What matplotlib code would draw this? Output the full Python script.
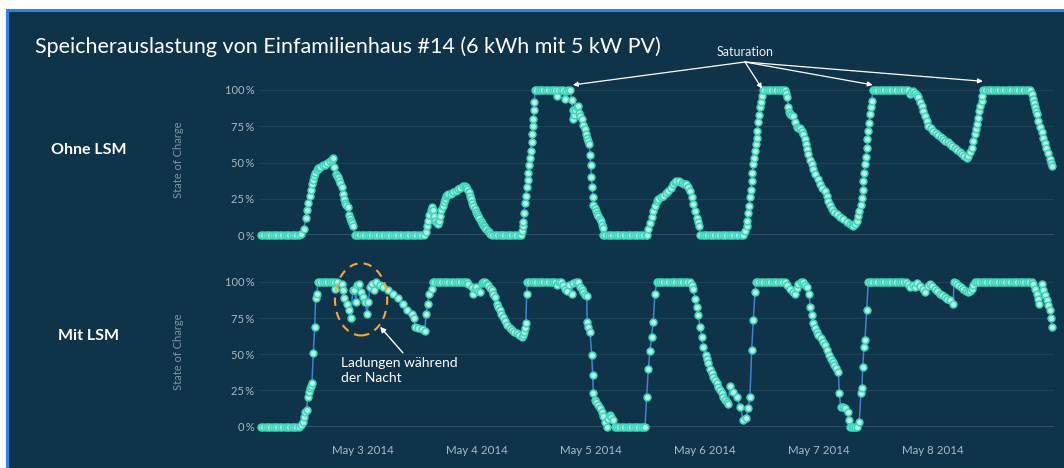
import matplotlib
matplotlib.use('Agg')
import matplotlib.pyplot as plt
import matplotlib.dates as mdates
from matplotlib.patches import Rectangle, Ellipse
import numpy as np
import pandas as pd

plt.rcParams['font.family'] = ['Lato', 'DejaVu Sans']

START = pd.Timestamp('2014-05-02 00:00')

# (Stunden seit 2.5.2014 00:00, State of Charge in %)
ohne_lsm = [
    (2.5, 0), (3, 0), (3.5, 0), (4, 0), (4.5, 0), (5, 0), (5.5, 0), (6, 0), (6.5, 0), (7, 0),
    (7.5, 0), (8, 0), (8.5, 0), (9, 0), (9.5, 0), (10, 0), (10.5, 0),
    (11, 1), (11.5, 4), (12, 12), (12.25, 17), (12.5, 22), (12.75, 27), (13, 31), (13.25, 35),
    (13.5, 38), (13.75, 41), (14, 43), (14.25, 45), (14.5, 46), (14.75, 46.5), (15, 47), (15.5, 48),
    (16, 48.5), (16.5, 49.5), (17, 51), (17.5, 52), (17.75, 53),
    (18, 47), (18.25, 42), (18.5, 41), (18.75, 40), (19, 38), (19.25, 36), (19.5, 33), (19.75, 28),
    (20, 25), (20.25, 22), (20.5, 21), (20.75, 19), (21, 14), (21.25, 12), (21.5, 10), (21.75, 8),
    (22, 6), (22.25, 0),
    (22.75, 0), (23.25, 0), (23.75, 0), (24.25, 0), (24.75, 0), (25.25, 0), (25.75, 0), (26.25, 0),
    (26.75, 0), (27.25, 0), (27.75, 0), (28.25, 0), (28.75, 0), (29.25, 0), (29.75, 0), (30.25, 0),
    (30.75, 0), (31.25, 0), (31.75, 0), (32.25, 0), (32.75, 0), (33.25, 0), (33.75, 0), (34.25, 0),
    (34.75, 0), (35.25, 0), (35.75, 0), (36.25, 0), (36.75, 0),
    (37.25, 2), (37.5, 6), (37.75, 10), (38, 14), (38.25, 17), (38.5, 19), (38.75, 17), (39, 13),
    (39.25, 10), (39.5, 8), (39.75, 7.5), (40, 10), (40.25, 13), (40.5, 17), (40.75, 20), (41, 23),
    (41.25, 25), (41.5, 27), (41.75, 27.5), (42, 28), (42.5, 28.5), (43, 29.5), (43.5, 30.5),
    (44, 31.5), (44.5, 32.5), (45, 33.5), (45.5, 34), (45.75, 33), (46, 31.5), (46.25, 29.5),
    (46.5, 27), (46.75, 24.5), (47, 22), (47.25, 20), (47.5, 18), (47.75, 16), (48, 14.5),
    (48.25, 13), (48.5, 11.5), (48.75, 10), (49, 8.5), (49.25, 7), (49.5, 6), (49.75, 5), (50, 4),
    (50.25, 3), (50.5, 2), (50.75, 1), (51.25, 0),
    (51.75, 0), (52.25, 0), (52.75, 0), (53.25, 0), (53.75, 0), (54.25, 0), (54.75, 0), (55.25, 0),
    (55.75, 0), (56.25, 0), (56.75, 0), (57.25, 0),
    (57.4, 3), (57.6, 6), (57.75, 9), (57.9, 15), (58.1, 22), (58.3, 27), (58.46, 33), (58.65, 38),
    (58.8, 43), (59, 48), (59.16, 53), (59.3, 58), (59.5, 64), (59.6, 70), (59.72, 75), (59.85, 80),
    (60, 86), (60.1, 92), (60.2, 100),
    (60.5, 100), (61, 100), (61.5, 100), (62, 100), (62.5, 100), (63, 100), (63.5, 100), (64, 100),
    (64.5, 100), (64.8, 96), (65.1, 100), (65.6, 100), (66.1, 100), (66.5, 94), (66.8, 99),
    (67.2, 100), (67.6, 100),
    (67.95, 93), (68.15, 86), (68.3, 80), (68.5, 83), (68.7, 86), (69, 88), (69.3, 89), (69.5, 84),
    (69.75, 82), (70.04, 80), (70.4, 76), (70.74, 73), (71, 70), (71.2, 67), (71.45, 65),
    (71.65, 62.7), (71.8, 55), (71.94, 48), (72.1, 40), (72.27, 33), (72.4, 26), (72.5, 21),
    (72.8, 18.5), (73.05, 16.5), (73.3, 14.5), (73.55, 13), (73.8, 11), (74.05, 9.5), (74.25, 7),
    (74.45, 5), (74.6, 0),
    (75, 0), (75.5, 0), (76, 0), (76.5, 0), (77, 0), (77.5, 0), (78, 0), (78.5, 0), (79, 0),
    (79.5, 0), (80, 0), (80.5, 0), (81, 0), (81.5, 0), (82, 0), (82.5, 0), (83, 0), (83.5, 0),
    (83.75, 0), (84.1, 4), (84.42, 8.5), (84.75, 12.5), (85.1, 16.6), (85.45, 20), (85.8, 23.5),
    (86.2, 25), (86.7, 26), (87.2, 27), (87.7, 28.7), (88.25, 30.4), (88.75, 32.7), (89.3, 35),
    (89.65, 36.5), (90, 37.3), (90.5, 37), (91.1, 36), (91.6, 35.5), (92.1, 35), (92.5, 33),
    (92.84, 30.4), (93.2, 26), (93.54, 21.2), (93.9, 16.5), (94.25, 12), (94.55, 9), (94.8, 6),
    (95, 0),
    (95.5, 0), (96, 0), (96.5, 0), (97, 0), (97.5, 0), (98, 0), (98.5, 0), (99, 0), (99.5, 0),
    (100, 0), (100.5, 0), (101, 0), (101.5, 0), (102, 0), (102.5, 0), (103, 0), (103.5, 0),
    (104.1, 0), (104.45, 3), (104.78, 6), (104.95, 10), (105.12, 15), (105.3, 20), (105.47, 26),
    (105.65, 31), (105.83, 37), (106, 43), (106.17, 49), (106.35, 53), (106.53, 58), (106.7, 63),
    (106.88, 67), (107.05, 72), (107.22, 78), (107.4, 83), (107.58, 88), (107.76, 92),
    (107.94, 96), (108.15, 100),
    (108.5, 100), (109, 100), (109.5, 100), (110, 100), (110.5, 100), (111, 100), (111.5, 100),
    (112, 100), (112.5, 100), (112.84, 100),
    (113.1, 98), (113.33, 95), (113.54, 88), (113.7, 85), (113.9, 83.4), (114.2, 83), (114.6, 82),
    (114.95, 78), (115.3, 74.2), (115.65, 74), (116, 73.7), (116.35, 72), (116.7, 69.6), (117, 66),
    (117.26, 62.7), (117.5, 59), (117.75, 55.8), (118.1, 52), (118.46, 48.9), (118.8, 45.5),
    (119.16, 42), (119.7, 38.5), (120.2, 35), (120.7, 32.7), (121.26, 30.4), (121.6, 27),
    (121.96, 23.5), (122.3, 20.5), (122.67, 17.8), (123.2, 16), (123.7, 14.3), (124.4, 12.5),
    (125.1, 10.8), (125.8, 9.3), (126.5, 7.8), (126.9, 6.8), (127.2, 6.2), (127.6, 7.5),
    (127.94, 9.7), (128.2, 13), (128.48, 16.6), (128.75, 21), (129, 25.8), (129.17, 31),
    (129.33, 37.3), (129.5, 43), (129.68, 48.9), (129.86, 54), (130.04, 60.3), (130.2, 66),
    (130.38, 71.9), (130.56, 77), (130.74, 83.4), (130.92, 88), (131.1, 92.6), (131.3, 100),
    (131.75, 100), (132.25, 100), (132.75, 100), (133.25, 100), (133.75, 100), (134.25, 100),
    (134.75, 100), (135.25, 100), (135.75, 100), (136.25, 100), (136.75, 100), (137.25, 100),
    (137.75, 100), (138.25, 100), (138.75, 100),
    (139.1, 97), (139.4, 98.5), (139.86, 99.5), (140.2, 98), (140.55, 96.5), (140.9, 95),
    (141.25, 92), (141.6, 89.2), (141.95, 85.5), (142.3, 82.2), (142.65, 78.5), (143, 75.3),
    (143.5, 73.5), (144.07, 71.9), (144.6, 70.5), (145.1, 69), (145.6, 67.8), (146.1, 66.5),
    (146.6, 65), (147.1, 63.8), (147.6, 62.5), (148.1, 61.2), (148.6, 60), (149.1, 58.6),
    (149.6, 57.3), (150.1, 56), (150.6, 54.7), (151.1, 53.4),
    (151.4, 54.6), (151.8, 57), (152.15, 60.3), (152.5, 65), (152.84, 69.6), (153.1, 73),
    (153.33, 76.5), (153.55, 81), (153.75, 85.7), (154, 89), (154.25, 92.6), (154.4, 96),
    (154.6, 100),
    (155, 100), (155.5, 100), (156, 100), (156.5, 100), (157, 100), (157.5, 100), (158, 100),
    (158.5, 100), (159, 100), (159.5, 100), (160, 100), (160.5, 100), (161, 100), (161.5, 100),
    (162, 100), (162.5, 100), (163, 100), (163.5, 100), (164, 100), (164.5, 100),
    (164.8, 97), (165.1, 94), (165.3, 91), (165.47, 88), (165.65, 85.5), (165.8, 83.4),
    (166.15, 78.8), (166.5, 74.2), (166.85, 70.7), (167.2, 67.2), (167.55, 63.7), (167.9, 60.3),
    (168.25, 56.3), (168.63, 52.3), (168.8, 50), (169, 47.7),
]

mit_lsm = [
    (2.5, 0), (3, 0), (3.5, 0), (4, 0), (4.5, 0), (5, 0), (5.5, 0), (6, 0), (6.5, 0), (7, 0),
    (7.5, 0), (8, 0), (8.5, 0), (9, 0), (9.5, 0), (10, 0), (10.5, 0),
    (11, 1), (11.3, 3.4), (11.58, 6.9), (11.86, 10.3), (12.15, 11.5), (12.36, 20.7), (12.57, 24.1),
    (12.84, 26.5), (13.05, 28), (13.26, 29.9), (13.54, 50.6), (13.83, 69), (14.04, 88.6),
    (14.25, 92), (14.6, 100),
    (15, 100), (15.5, 100), (16, 100), (16.5, 100), (17, 100), (17.5, 100), (18, 100),
    (18.1, 95.4), (18.46, 100), (19.52, 98.9), (19.86, 94.3), (20.07, 88.6), (20.57, 85),
    (21.05, 80.5), (21.47, 74.8), (21.83, 94.3), (22.17, 94.3), (22.53, 86.2), (22.8, 97.7),
    (23.22, 98.9), (23.58, 93.1), (23.93, 89.7), (24.42, 86.2), (24.9, 78.2), (25.12, 86.2),
    (25.47, 96.6), (25.83, 98.9), (26.32, 94.3), (26.74, 100), (27.58, 97.7), (28.28, 96.6),
    (29.33, 94.3), (30.38, 92), (31.43, 88.6), (32.48, 85), (33.2, 80.5), (34.25, 78.2),
    (34.74, 74.8), (34.95, 69), (35.64, 67.9), (36.36, 67.2), (37.05, 66.2), (37.26, 78.2),
    (37.6, 85), (37.96, 92), (38.46, 95.4), (38.67, 100),
    (39, 100), (39.5, 100), (40, 100), (40.5, 100), (41, 100), (41.5, 100), (42, 100), (42.5, 100),
    (43, 100), (43.5, 100), (44, 100), (44.5, 100), (45, 100), (45.5, 100), (46, 100),
    (46.2, 98.9), (46.9, 96.6), (47.2, 92), (47.55, 95), (47.9, 96.6), (48.25, 94), (48.6, 93),
    (49, 99), (49.35, 100), (49.7, 100), (50.05, 98.5), (50.4, 97.7), (50.75, 96), (51.1, 94.3),
    (51.45, 92), (51.8, 89.7), (52.15, 85), (52.5, 82.7), (52.8, 80.5), (53.15, 78), (53.5, 75.9),
    (53.95, 73), (54.4, 70), (54.85, 68), (55.3, 66.7), (55.8, 65.5), (56.35, 64.4), (56.9, 63),
    (57.4, 62), (57.65, 63.5), (57.9, 65.5), (58.1, 68), (58.3, 71.3), (58.46, 92), (58.6, 100),
    (59, 100), (59.5, 100), (60, 100), (60.5, 100), (61, 100), (61.5, 100), (62, 100), (62.5, 100),
    (63, 100), (63.5, 100), (64, 100), (64.5, 100),
    (64.8, 97.7), (65.2, 100), (65.7, 100), (66.1, 98), (66.5, 95), (66.9, 93.5), (67.4, 98),
    (67.94, 92), (68.3, 99), (68.8, 100), (69.2, 100), (69.7, 96.6), (70.05, 95), (70.4, 93),
    (70.75, 91), (71.1, 90),
    (71.2, 72.4), (71.45, 69), (71.8, 65.7), (72.15, 49.4), (72.36, 35.6), (72.5, 23),
    (72.84, 18.4), (73.15, 16.7), (73.5, 15), (73.85, 12.5), (74.25, 10.3), (74.6, 7),
    (74.95, 3.4), (75.3, 0), (75.65, 5), (76, 8), (76.3, 6.5), (76.6, 4.6), (77.05, 0),
    (77.5, 0), (78, 0), (78.5, 0), (79, 0), (79.5, 0), (80, 0), (80.5, 0), (81, 0), (81.5, 0),
    (82, 0), (82.5, 0), (83, 0),
    (83.37, 0), (83.73, 20.7), (84.07, 40), (84.42, 52.4), (84.75, 62), (85.1, 72.4), (85.47, 92),
    (85.83, 100),
    (86.25, 100), (86.75, 100), (87.25, 100), (87.75, 100), (88.25, 100), (88.75, 100),
    (89.25, 100), (89.75, 100), (90.25, 100), (90.75, 100), (91.25, 100), (91.75, 100),
    (92.25, 100), (92.75, 100),
    (93.2, 98), (93.54, 95.4), (93.9, 88.5), (94.25, 82.8), (94.6, 77), (94.95, 69), (95.3, 62),
    (95.65, 55), (96.2, 49.4), (96.45, 46.5), (96.7, 43.7), (97.05, 40), (97.4, 36.8),
    (97.75, 34.5), (98.1, 32.2), (98.45, 30), (98.8, 27.6), (99.15, 25.3), (99.5, 23),
    (99.85, 20.7), (100.2, 18.4), (100.55, 17), (100.9, 15.6), (101.26, 28), (102, 24),
    (102.67, 20.7), (103.4, 13.8), (104.07, 4.6), (104.6, 5.8), (105.1, 12.7), (105.47, 20.7),
    (105.83, 53), (106.17, 73.6), (106.53, 93), (106.74, 100),
    (107.25, 100), (107.75, 100), (108.25, 100), (108.75, 100), (109.25, 100), (109.75, 100),
    (110.25, 100), (110.75, 100), (111.25, 100), (111.75, 100), (112.25, 100),
    (112.84, 100), (113.2, 97.7), (113.9, 95.4), (114.45, 93), (114.95, 92), (115.3, 96),
    (115.65, 98.9), (116.2, 100), (116.7, 100), (117.05, 98), (117.4, 96.6), (117.96, 92),
    (118.1, 82.8), (118.46, 77), (118.8, 71.3), (119.15, 68.4), (119.5, 65.5), (119.9, 63.2),
    (120.35, 61), (120.8, 58.6), (121.26, 56.3), (121.7, 52.8), (122.17, 49.4), (122.5, 47),
    (122.88, 44.8), (123.23, 42.5), (123.58, 40.3), (124.07, 37.9), (124.28, 23), (124.56, 13.8),
    (125, 13.2), (125.47, 12.7), (126.04, 10.3), (126.25, 4.6), (126.53, 0), (126.85, 0),
    (127.2, 0), (127.55, 0), (127.94, 0), (128.48, 3.4), (128.84, 23), (129.05, 26.5),
    (129.2, 41.4), (129.47, 54.8), (129.68, 59.8), (130.04, 80.5), (130.38, 100),
    (130.75, 100), (131.25, 100), (131.75, 100), (132.25, 100), (132.75, 100), (133.25, 100),
    (133.75, 100), (134.25, 100), (134.75, 100), (135.25, 100), (135.75, 100), (136.25, 100),
    (136.75, 100), (137.25, 100), (137.75, 100), (138.25, 100),
    (138.8, 98.9), (139.16, 96.6), (139.7, 98), (140.2, 96.6), (140.57, 99), (141.25, 97.5),
    (141.96, 95.4), (142.3, 93), (142.85, 97), (143.37, 98.9), (143.9, 97), (144.4, 95.4),
    (144.95, 93.7), (145.47, 92), (146, 90.8), (146.5, 89.7), (147.05, 88.5), (147.58, 87.4),
    (148.27, 85), (148.42, 100), (148.85, 99), (149.3, 97.7), (149.85, 96.5), (150.4, 95.4),
    (150.9, 94), (151.4, 93), (151.8, 94), (152.15, 95.4), (152.5, 98), (152.84, 100),
    (153.25, 100), (153.75, 100), (154.25, 100), (154.75, 100), (155.25, 100), (155.75, 100),
    (156.25, 100), (156.75, 100), (157.25, 100), (157.75, 100), (158.25, 100), (158.75, 100),
    (159.25, 100), (159.75, 100), (160.25, 100), (160.75, 100), (161.25, 100), (161.75, 100),
    (162.25, 100), (162.75, 100), (163.25, 100), (163.75, 100), (164.25, 100), (164.75, 100),
    (165.1, 98.9), (165.45, 95.5), (165.83, 92), (166.1, 88.5), (166.37, 85), (166.88, 98.9),
    (167.2, 94.3), (167.55, 91), (167.93, 87.4), (168.3, 84), (168.63, 80.5), (168.8, 75),
    (169, 69),
]

x_range = (2.3, 169.5)            # Stunden
tick_days = ['2014-05-03', '2014-05-04', '2014-05-05', '2014-05-06', '2014-05-07', '2014-05-08']
y_ticks = [0, 25, 50, 75, 100]
saturation_points = [(68.2, 103.5), (108.0, 101), (131.3, 103.5), (154.5, 106)]  # Pfeilspitzen

BG = '#0f3348'
DOT = '#3fd6bc'
DOT_FACE = '#b9f2e5'
LINE = '#3d84d4'
TXT = '#a8bbc7'
W, H = 1064, 468


def to_time(hours):
    return START + pd.to_timedelta(np.asarray(hours, dtype=float), unit='h')


fig = plt.figure(figsize=(W / 100, H / 100), dpi=100, facecolor='white')
fig.patches.append(Rectangle((7 / W, -0.05), 1.1, (H - 10) / H + 0.05, transform=fig.transFigure,
                             facecolor=BG, edgecolor='#2b82ea', lw=2.2, zorder=-5))

ax1 = fig.add_axes([259.9 / W, (H - 235) / H, 794.2 / W, 145 / H])
ax2 = fig.add_axes([259.9 / W, (H - 426.5) / H, 794.2 / W, 144.5 / H])

for ax, data in ((ax1, ohne_lsm), (ax2, mit_lsm)):
    hrs, soc = zip(*data)
    ax.set_facecolor('none')
    for s in ax.spines.values():
        s.set_visible(False)
    for v in y_ticks[1:]:
        ax.axhline(v, color='#1e4358', lw=0.9, zorder=1)
    ax.axhline(0, color='#3c5d71', lw=1.8, zorder=1)
    ax.plot(to_time(hrs), soc, color=LINE, lw=1.1, marker='o', ms=4.8, mfc=DOT_FACE, mec=DOT,
            mew=1.2, clip_on=False, zorder=3)
    ax.set_ylim(0, 100)
    ax.set_xlim(to_time(x_range[0]), to_time(x_range[1]))
    ax.set_yticks(y_ticks)
    ax.set_yticklabels(['%d\u2009%%' % v for v in y_ticks])
    ax.set_xticks(pd.to_datetime(tick_days))
    ax.tick_params(length=0, labelsize=8, labelcolor=TXT, pad=4)

ax1.set_xticklabels([])
ax2.xaxis.set_major_formatter(mdates.DateFormatter('%b %-d %Y'))
ax2.tick_params(axis='x', pad=13, labelsize=8.3)

# Titel und Beschriftungen
fig.text(35 / W, 1 - 47 / H, 'Speicherauslastung von Einfamilienhaus #14 (6 kWh mit 5 kW PV)',
         color='white', fontsize=15.5, va='center', ha='left')
fig.text(89 / W, 1 - 150 / H, 'Ohne LSM', color='white', fontsize=11.5, fontweight='bold',
         ha='center', va='center')
fig.text(89 / W, 1 - 336 / H, 'Mit LSM', color='white', fontsize=11.5, fontweight='bold',
         ha='center', va='center')
for yc in (160, 352):
    fig.text(178 / W, 1 - yc / H, 'State of Charge', color='#7d96a6', fontsize=8, rotation=90,
             ha='center', va='center')

# Saturation-Pfeile
fig.text(745 / W, 1 - 52 / H, 'Saturation', color='#e6eef2', fontsize=9, ha='center', va='center')
for hx, yv in saturation_points:
    ax1.annotate('', xy=(to_time(hx), yv), xycoords='data', xytext=(745 / W, 1 - 62 / H),
                 textcoords='figure fraction', annotation_clip=False,
                 arrowprops=dict(arrowstyle='-|>', color='white', lw=0.9, mutation_scale=7,
                                 shrinkA=0, shrinkB=0))

# Ladungen waehrend der Nacht
ell = Ellipse((mdates.date2num(to_time(23.6)), 88), width=11 / 24, height=50, fill=False,
              edgecolor='#f2a93b', lw=1.5, ls=(0, (4, 3)), zorder=5, clip_on=False)
ax2.add_patch(ell)
ax2.annotate('', xy=(to_time(27.6), 69), xytext=(to_time(32.4), 51), annotation_clip=False,
             arrowprops=dict(arrowstyle='-|>', color='white', lw=1.0, mutation_scale=8,
                             shrinkA=0, shrinkB=0))
ax2.text(to_time(19.3), 48, 'Ladungen während\nder Nacht', color='white', fontsize=10,
         ha='left', va='top', linespacing=1.25)

fig.savefig('out.png', dpi=100, facecolor='white')
